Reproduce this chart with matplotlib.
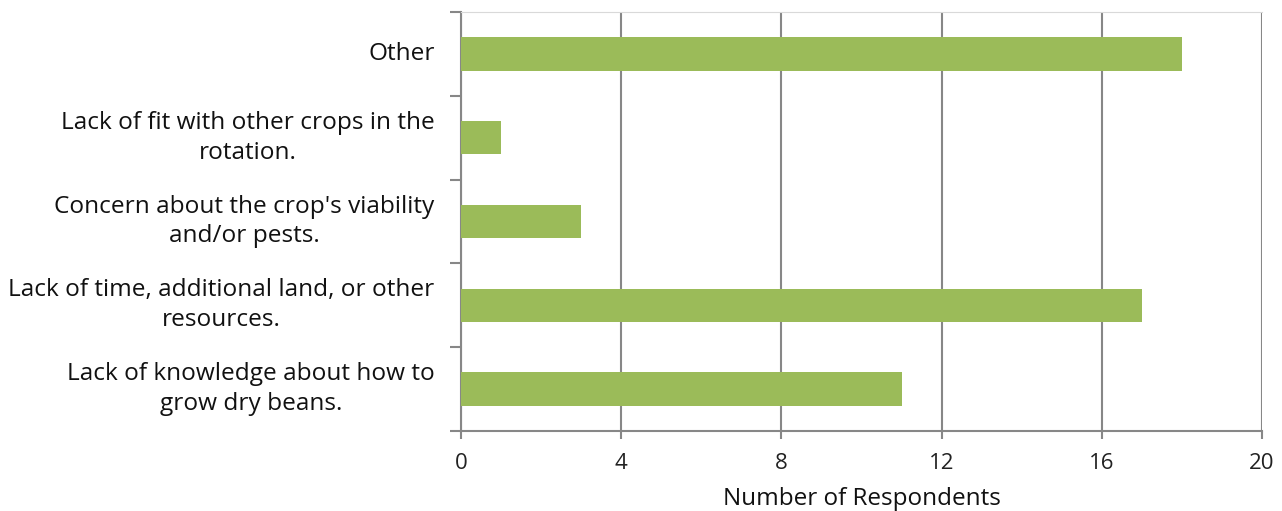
import matplotlib.pyplot as plt

categories = [
    "Lack of knowledge about how to\ngrow dry beans.",
    "Lack of time, additional land, or other\nresources.",
    "Concern about the crop's viability\nand/or pests.",
    "Lack of fit with other crops in the\nrotation.",
    "Other",
]
respondents = [11, 17, 3, 1, 18]
xticks = [0, 4, 8, 12, 16, 20]

plt.rcParams['font.family'] = ['Open Sans', 'DejaVu Sans']

fig = plt.figure(figsize=(12.82, 5.11), dpi=100)
ax = fig.add_axes([461 / 1282, 1 - 431 / 511, 801 / 1282, 419 / 511])

pos = list(range(len(categories)))
ax.barh(pos, respondents, height=0.4, color='#9BBB59', zorder=3)

ax.set_xlim(0, 20)
ax.set_ylim(-0.5, len(categories) - 0.5)
ax.set_xticks(xticks)
ax.set_xticklabels([str(t) for t in xticks], fontsize=16)
ax.xaxis.grid(True, color='#878787', linewidth=1.5, zorder=0)

# tick marks between categories, labels written next to the bars
ax.set_yticks([p - 0.5 for p in pos] + [len(pos) - 0.5])
ax.set_yticklabels([])
for p, lab in zip(pos, categories):
    ax.annotate(lab, xy=(0, p), xycoords=('axes fraction', 'data'),
                xytext=(-19, 0), textcoords='offset points',
                ha='right', va='center', multialignment='center',
                fontsize=17.6, linespacing=1.33, color='#111111')

ax.tick_params(axis='y', length=8, width=1.5, color='#878787', direction='out')
ax.tick_params(axis='x', length=6, width=1.5, color='#878787', direction='out',
               pad=10, labelcolor='#222222')

for s in ['left', 'bottom']:
    ax.spines[s].set_color('#878787')
    ax.spines[s].set_linewidth(1.5)
ax.spines['right'].set_visible(False)
ax.spines['top'].set_color('#d9d9d9')

ax.set_xlabel('Number of Respondents', fontsize=17.5, labelpad=9, color='#111111')

fig.savefig('out.png', dpi=100)
